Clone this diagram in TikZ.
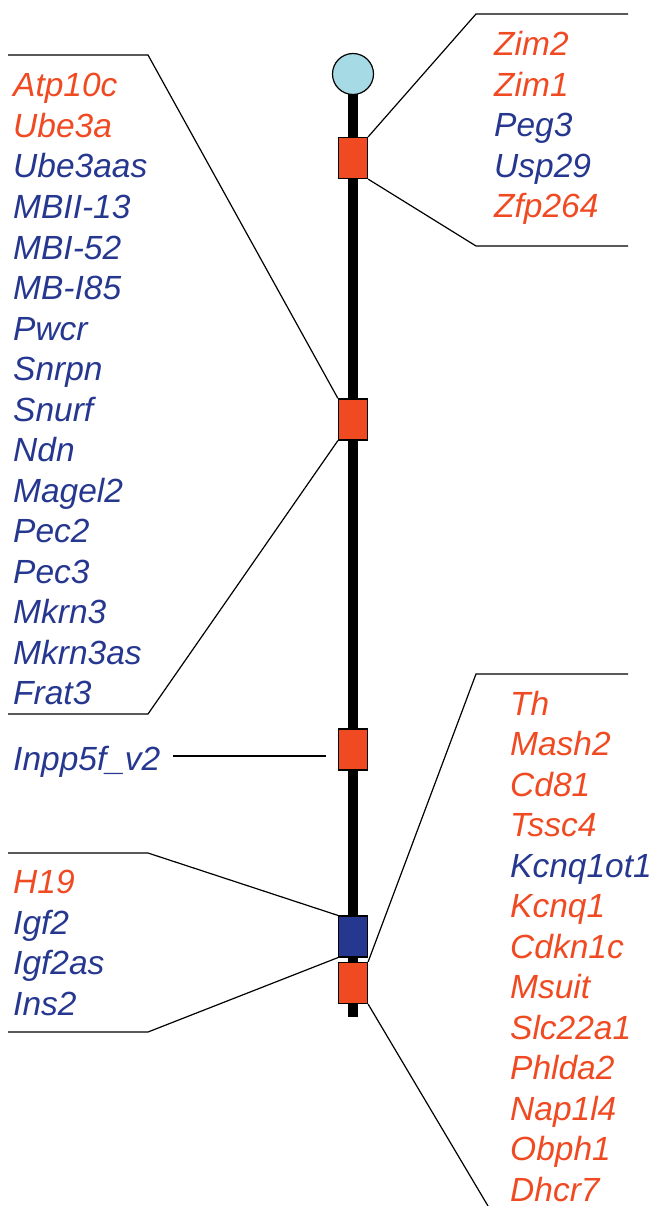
\documentclass[tikz,border=0pt]{standalone}
\usepackage{fontspec}
\setmainfont{Liberation Sans}
\definecolor{imprRed}{RGB}{240,74,35}
\definecolor{imprBlue}{RGB}{38,55,143}
\definecolor{centro}{RGB}{166,218,228}

\begin{document}
\begin{tikzpicture}[x=1pt,y=-1pt,
  gene/.style={anchor=base west, inner sep=0pt, font=\fontsize{33.5}{40}\selectfont\itshape},
  mat/.style={gene, text=imprRed},
  pat/.style={gene, text=imprBlue},
  region/.style={draw=black, line width=1.2pt, minimum width=29pt, minimum height=41pt, inner sep=0pt},
  link/.style={line width=1.2pt}]
\useasboundingbox (0,0) rectangle (653,1206);

% chromosome body and centromere
\draw[line width=10pt] (353,80) -- (353,1017);
\node[circle, draw, fill=centro, line width=1.2pt, minimum size=41pt, inner sep=0pt] (cen) at (353,74) {};

% imprinted regions
\node[region, fill=imprRed]  (b1) at (353,158) {};
\node[region, fill=imprRed]  (b2) at (353,419.5) {};
\node[region, fill=imprRed]  (b3) at (353,749.5) {};
\node[region, fill=imprBlue] (b4) at (353,936.5) {};
\node[region, fill=imprRed]  (b5) at (353,983) {};

% gene lists
\foreach \g/\s [count=\i from 0] in {Zim2/mat, Zim1/mat, Peg3/pat, Usp29/pat, Zfp264/mat}
  \node[\s] (R\i) at (494, 55.5+40.6*\i) {\g};

\foreach \g/\s [count=\i from 0] in {Atp10c/mat, Ube3a/mat, Ube3aas/pat, MBII-13/pat,
    MBI-52/pat, MB-I85/pat, Pwcr/pat, Snrpn/pat, Snurf/pat, Ndn/pat, Magel2/pat,
    Pec2/pat, Pec3/pat, Mkrn3/pat, Mkrn3as/pat, Frat3/pat}
  \node[\s] (L\i) at (13, 97+40.5*\i) {\g};

\node[pat] (inpp) at (13,770) {Inpp5f\_v2};

\foreach \g/\s [count=\i from 0] in {H19/mat, Igf2/pat, Igf2as/pat, Ins2/pat}
  \node[\s] (H\i) at (13, 893.5+40.5*\i) {\g};

\foreach \g/\s [count=\i from 0] in {Th/mat, Mash2/mat, Cd81/mat, Tssc4/mat,
    Kcnq1ot1/pat, Kcnq1/mat, Cdkn1c/mat, Msuit/mat, Slc22a1/mat, Phlda2/mat,
    Nap1l4/mat, Obph1/mat, Dhcr7/mat}
  \node[\s] (K\i) at (510, 715+40.5*\i) {\g};

% callout brackets
\coordinate (t1a) at (476,14);   \coordinate (t1b) at (628,14);
\coordinate (t1c) at (476,246);  \coordinate (t1d) at (628,246);
\draw[link] (b1.north east) -- (t1a) -- (t1b);
\draw[link] (b1.south east) -- (t1c) -- (t1d);

\coordinate (t2a) at (148,55);   \coordinate (t2b) at (8,55);
\coordinate (t2c) at (148,714);  \coordinate (t2d) at (8,714);
\draw[link] (b2.north west) -- (t2a) -- (t2b);
\draw[link] (b2.south west) -- (t2c) -- (t2d);

\coordinate (t3a) at (326,756);  \coordinate (t3b) at (173,756);
\draw[link] (t3a) -- (t3b);

\coordinate (t4a) at (148,853);  \coordinate (t4b) at (8,853);
\coordinate (t4c) at (148,1032); \coordinate (t4d) at (8,1032);
\draw[link] (b4.north west) -- (t4a) -- (t4b);
\draw[link] (b4.south west) -- (t4c) -- (t4d);

\coordinate (t5a) at (476,674);  \coordinate (t5b) at (628,674);
\coordinate (t5c) at (488,1206);
\draw[link] (b5.north east) -- (t5a) -- (t5b);
\draw[link] (b5.south east) -- (t5c);
\end{tikzpicture}
\end{document}
